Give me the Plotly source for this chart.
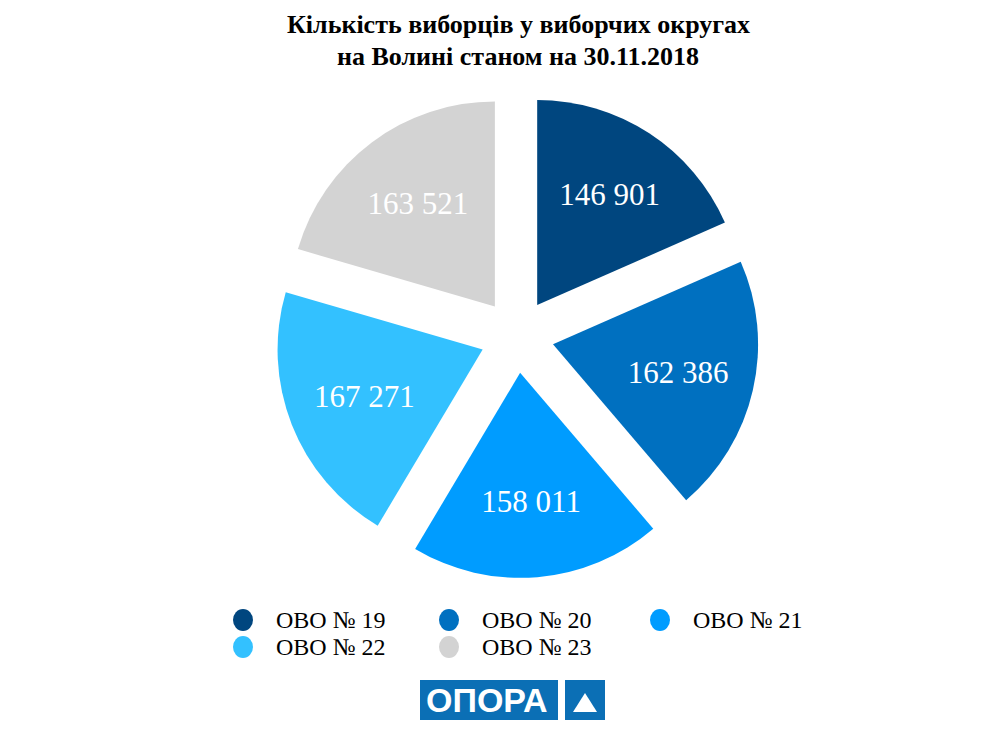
import plotly.graph_objects as go

districts = ["ОВО № 19", "ОВО № 20", "ОВО № 21", "ОВО № 22", "ОВО № 23"]
voters = [146901, 162386, 158011, 167271, 163521]
colors = ["#00467F", "#0070C0", "#009CFF", "#33C1FF", "#D3D3D3"]
labels_text = [f"{v:,}".replace(",", " ") for v in voters]
title_lines = ["Кількість виборців у виборчих округах", "на Волині станом на 30.11.2018"]

W, H = 1000, 739
OFF = 8  # page body margin shifts the figure by 8px


def px(x):
    return (x - OFF) / W


def py(y):
    return 1 - (y - OFF) / H


fig = go.Figure()

fig.add_trace(go.Pie(
    labels=districts,
    values=voters,
    text=labels_text,
    textinfo="text",
    textposition="inside",
    insidetextorientation="horizontal",
    textfont=dict(family="Liberation Serif", size=31, color="white"),
    marker=dict(colors=colors, line=dict(width=0)),
    pull=[0.18] * len(voters),
    sort=False,
    direction="clockwise",
    rotation=0,
    showlegend=False,
    hoverinfo="label+value",
    domain=dict(x=[px(517 - 300), px(517 + 300)], y=[py(578), py(94)]),
))

shapes = []
annotations = []

# title
for i, line in enumerate(title_lines):
    annotations.append(dict(
        text=f"<b>{line}</b>", xref="paper", yref="paper",
        x=px(518), y=py(25 + 31 * i), xanchor="center", yanchor="middle",
        showarrow=False,
        font=dict(family="Liberation Serif", size=26, color="black"),
    ))

# legend with round markers, 3 per row
col_x = [243, 449, 660]
row_y = [620, 647]
for i, (name, c) in enumerate(zip(districts, colors)):
    cx = col_x[i % 3]
    cy = row_y[i // 3]
    shapes.append(dict(
        type="circle", xref="paper", yref="paper",
        x0=px(cx - 10), x1=px(cx + 10), y0=py(cy + 11), y1=py(cy - 11),
        fillcolor=c, line=dict(width=0),
    ))
    annotations.append(dict(
        text=name, xref="paper", yref="paper",
        x=px(cx + 31), y=py(cy), xanchor="left", yanchor="middle",
        showarrow=False,
        font=dict(family="Liberation Serif", size=24, color="black"),
    ))

# logo
logo_blue = "#0B6FB5"
shapes += [
    dict(type="rect", xref="paper", yref="paper",
         x0=px(420), x1=px(558), y0=py(720), y1=py(680),
         fillcolor=logo_blue, line=dict(width=0)),
    dict(type="rect", xref="paper", yref="paper",
         x0=px(565), x1=px(605), y0=py(720), y1=py(680),
         fillcolor=logo_blue, line=dict(width=0)),
    dict(type="path", xref="paper", yref="paper",
         path=f"M {px(573)} {py(712)} L {px(597)} {py(712)} L {px(585)} {py(693)} Z",
         fillcolor="white", line=dict(width=0)),
]
annotations.append(dict(
    text="<b>ОПОРА</b>", xref="paper", yref="paper",
    x=px(487), y=py(700), xanchor="center", yanchor="middle",
    showarrow=False,
    font=dict(family="Liberation Sans", size=34, color="white"),
))

fig.update_layout(
    width=W, height=H,
    margin=dict(l=0, r=0, t=0, b=0),
    paper_bgcolor="white",
    plot_bgcolor="white",
    shapes=shapes,
    annotations=annotations,
)

fig.write_html("out.html")
